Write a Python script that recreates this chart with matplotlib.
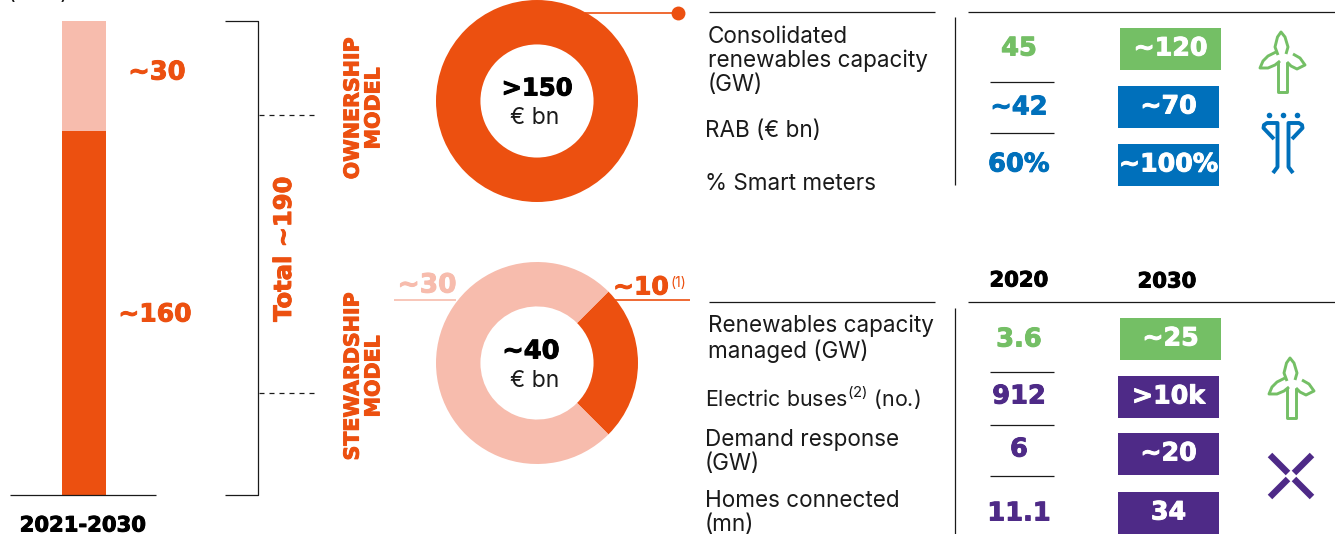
import matplotlib
matplotlib.use("Agg")
from matplotlib import pyplot as plt
from matplotlib import patheffects
from matplotlib.patches import Polygon, Rectangle

ORANGE = "#EC5010"
LIGHT = "#F7BCAD"
GREEN = "#74BF65"
BLUE = "#0070BB"
PURPLE = "#4E2A87"
BLACK = "#1a1a1a"

# bar heights as drawn in the picture (the labels say ~160 and ~30)
bar_heights = [146, 44]
bar_labels = ["~160", "~30"]
bar_period = "2021-2030"

ownership_values = [150]
stewardship_values = [10, 30]

top_labels = ["Consolidated\nrenewables capacity\n(GW)", "RAB (€ bn)", "% Smart meters"]
top_2020 = ["45", "~42", "60%"]
top_2030 = ["~120", "~70", "~100%"]

bottom_labels = ["Renewables capacity\nmanaged (GW)", "Electric buses$^{(2)}$ (no.)",
                 "Demand response\n(GW)", "Homes connected\n(mn)"]
bottom_2020 = ["3.6", "912", "6", "11.1"]
bottom_2030 = ["~25", ">10k", "~20", "34"]

plt.rcParams["font.family"] = ["Inter", "DejaVu Sans"]
plt.rcParams["mathtext.fontset"] = "custom"
plt.rcParams["mathtext.rm"] = "Inter"

W, H = 1335, 534
fig = plt.figure(figsize=(W / 100, H / 100), dpi=100)
ax = fig.add_axes([0, 0, 1, 1])
ax.set_xlim(0, W)
ax.set_ylim(H, 0)
ax.axis("off")


def line(xs, ys, color=BLACK, lw=0.9, **kw):
    ax.plot(xs, ys, color=color, lw=lw, solid_capstyle="butt", **kw)


def bold(x, y, s, size=17, color=ORANGE, **kw):
    kw.setdefault("ha", "center")
    t = ax.text(x, y + 1.5, s, fontsize=size, color=color, fontweight="bold", va="center",
                family=["DejaVu Sans"], **kw)
    t.set_path_effects([patheffects.withStroke(linewidth=0.7, foreground=color)])


def body(x, y, s, size=16.2, **kw):
    kw.setdefault("va", "center")
    ax.text(x, y + 1, s, fontsize=size, color=BLACK, linespacing=1.12, **kw)


def turbine(cx, cy):
    tower = [(-4.5, 5), (-4.5, 35), (4.5, 35), (4.5, 5)]
    blade_up = [(-4, -2), (-7, -10), (-4.5, -20), (-1, -25), (3, -20), (6, -10), (4, -3)]
    blade_left = [(-6, -5), (-14, -1), (-19, 4), (-22, 11), (-14, 11), (-7, 8), (-2, 4)]
    blade_right = [(11, -3), (18, 1), (23, 8), (15, 12), (9, 9), (5, 5)]
    for pts in (tower, blade_up, blade_left, blade_right):
        ax.add_patch(Polygon([(cx + x, cy + y) for x, y in pts], closed=False, fill=False,
                             ec=GREEN, lw=2.1, joinstyle="round"))


def meter(cx, top):
    for dx in (-14, 0, 14):
        ax.plot(cx + dx, top, "o", ms=4, color=BLUE, mew=0)
    for s in (-1, 1):
        xs = [cx + s * d for d in (9, 19.5, 19, 16, 5.5, 5.5, 10)]
        ys = [top + d for d in (24, 13, 10, 8, 8, 52, 58)]
        ax.plot(xs, ys, color=BLUE, lw=2.8, solid_joinstyle="round", solid_capstyle="butt")


def cross(cx, cy):
    for sx in (-1, 1):
        for sy in (-1, 1):
            line([cx + sx * 3, cx + sx * 21], [cy + sy * 3, cy + sy * 21], color=PURPLE, lw=4.6)


# left stacked bar
bar_ax = fig.add_axes([62 / W, 1 - 495 / H, 44 / W, 474 / H])
bar_ax.bar([0], [bar_heights[0]], width=1, color=ORANGE)
bar_ax.bar([0], [bar_heights[1]], bottom=[bar_heights[0]], width=1, color=LIGHT)
bar_ax.set_xlim(-0.5, 0.5)
bar_ax.set_ylim(0, sum(bar_heights))
bar_ax.axis("off")

line([10, 156], [495, 495])
bold(155, 313, bar_labels[0], size=18)
bold(157, 71, bar_labels[1], size=18.5)
bold(83, 524, bar_period, size=15.2, color="black")
ax.text(38, -7, "(€ bn)", fontsize=15, ha="center", va="center", color=BLACK)

# bracket
line([225, 258, 258, 225], [21, 21, 495, 495])
line([259, 318], [115, 115], ls=(0, (4, 4)))
line([259, 318], [393, 393], ls=(0, (4, 4)))
bold(284, 248, "Total ~190", size=17.4, rotation=90)
bold(363, 107, "OWNERSHIP\nMODEL", size=14.8, rotation=90, linespacing=1.05, multialignment="center")
bold(363, 375, "STEWARDSHIP\nMODEL", size=14.8, rotation=90, linespacing=1.05, multialignment="center")

# donuts
R = 101
for cy, vals, cols, start in [(101, ownership_values, [ORANGE], 90),
                              (363, stewardship_values, [ORANGE, LIGHT], -45)]:
    pie_ax = fig.add_axes([(537 - R) / W, 1 - (cy + R) / H, 2 * R / W, 2 * R / H])
    pie_ax.pie(vals, colors=cols, startangle=start, radius=1, counterclock=True,
               wedgeprops={"width": 0.44, "linewidth": 0})
    pie_ax.set_xlim(-1, 1)
    pie_ax.set_ylim(-1, 1)
    pie_ax.set_zorder(0)
ax.set_zorder(2)
ax.patch.set_alpha(0)

bold(537, 87, ">150", size=17.5, color="black")
body(535, 117, "€ bn", size=16.5, ha="center")
bold(531, 350, "~40", size=18.5, color="black")
body(535, 380, "€ bn", size=16.5, ha="center")

line([585, 678], [13, 13], color=ORANGE, lw=1.2)
ax.plot(678, 13, "o", ms=10, color=ORANGE, mew=0)
bold(427, 284, "~30", size=19, color=LIGHT)
line([394, 456], [300, 300], color=LIGHT, lw=1.2)
bold(641, 286, "~10", size=18)
ax.text(678, 283, "(1)", fontsize=10, ha="center", va="center", color=ORANGE)
line([612, 690], [300, 300], color=ORANGE, lw=1.2)

# tables
for y in (12, 302):
    line([709, 935], [y, y])
    line([968, 1335], [y, y])
line([955, 955], [17, 185])
line([955, 955], [308, 534])
for y in (82, 133, 372, 425, 476):
    line([990, 1054], [y, y])

bold(1019, 279, "2020", size=15.2, color="black")
bold(1167, 280, "2030", size=15.2, color="black")

top_label_pos = [(708, 60), (705, 130), (705, 183)]
top_y = [47, 106, 163]
box_top_y = [49, 107, 165]
top_x = [1120, 1118, 1118]
top_cols = [GREEN, BLUE, BLUE]
for i in range(3):
    body(*top_label_pos[i], top_labels[i])
    bold(1019, top_y[i], top_2020[i], size=18.5, color=top_cols[i])
    ax.add_patch(Rectangle((top_x[i], box_top_y[i] - 21), 101, 42, color=top_cols[i], lw=0))
    bold(top_x[i] + 50.5, box_top_y[i] - 2, top_2030[i], size=18.2, color="white")

bottom_label_pos = [(708, 338), (705, 397), (705, 451), (705, 512)]
bottom_y = [338, 395, 448, 512]
box_y = [339, 397, 454, 513]
box_x = [1120, 1118, 1118, 1118]
bottom_cols = [GREEN, PURPLE, PURPLE, PURPLE]
for i in range(4):
    body(*bottom_label_pos[i], bottom_labels[i], size=15.4 if i == 1 else 16.2)
    bold(1019, bottom_y[i], bottom_2020[i], size=18.5, color=bottom_cols[i])
    ax.add_patch(Rectangle((box_x[i], box_y[i] - 21), 101, 42, color=bottom_cols[i], lw=0))
    bold(box_x[i] + 50.5, box_y[i] - 2, bottom_2030[i], size=18.2, color="white")

# icons
turbine(1282, 57)
meter(1283, 115)
turbine(1291, 383)
cross(1291, 476)

plt.savefig("out.png", dpi=100)
plt.close()
